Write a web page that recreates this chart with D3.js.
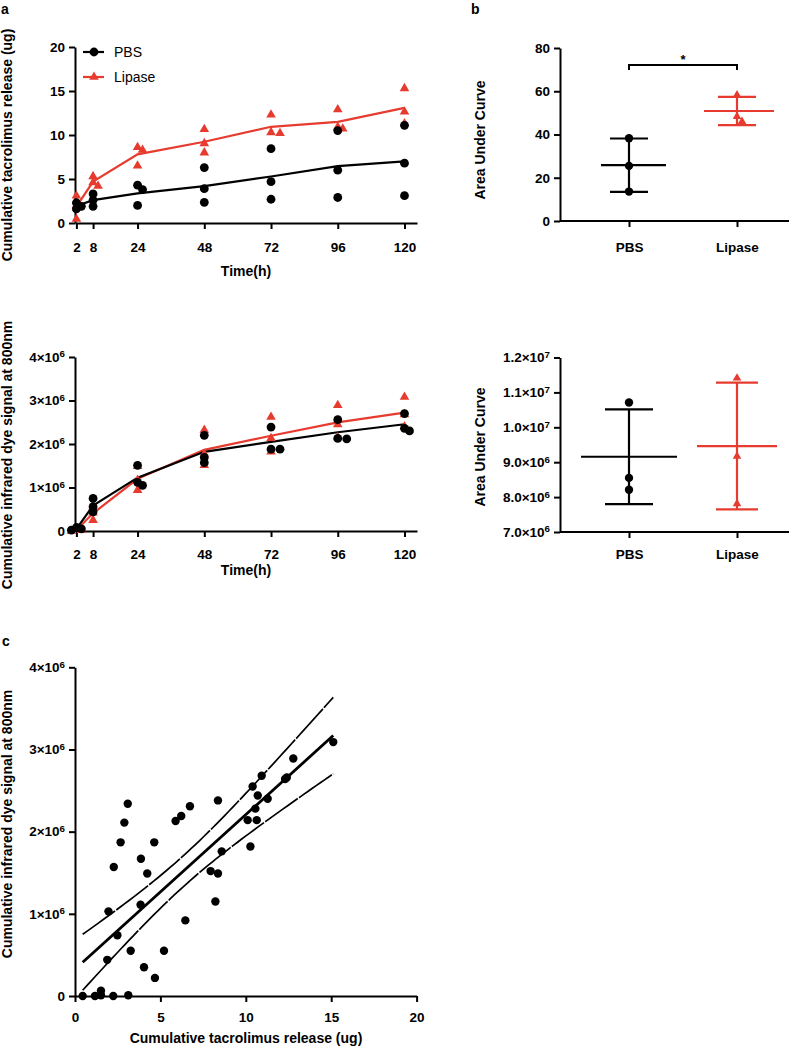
<!DOCTYPE html>
<html>
<head>
<meta charset="utf-8">
<script src="https://cdn.jsdelivr.net/npm/d3@7"></script>
<style>
  html, body { margin: 0; padding: 0; background: #fff; }
  svg { display: block; font-family: "Liberation Sans", Arial, Helvetica, sans-serif; }
</style>
</head>
<body>
<svg id="chart" width="789" height="1048"></svg>
<script>
// ---------------- DATA ----------------
const times = [2, 8, 24, 48, 72, 96, 120];
const timeTicks = [2, 8, 24, 48, 72, 96, 120];
// cumulative tacrolimus release (ug), 3 replicates per time point
const tacPBS = [[2.3, 1.9, 1.6], [3.3, 2.6, 1.9], [4.3, 3.8, 2.0], [6.3, 3.9, 2.35], [8.45, 4.7, 2.7], [10.5, 6.0, 2.9], [11.1, 6.8, 3.1]];
const tacLipase = [[3.1, 2.0, 0.45], [5.3, 4.6, 4.2], [8.6, 8.3, 6.5], [10.65, 9.05, 8.0], [12.3, 10.3, 10.2], [12.9, 10.9, 10.7], [15.3, 12.65, 11.3]];
const tacTicks = [0, 5, 10, 15, 20];
// cumulative infrared dye signal at 800nm
const dyePBS = [[0.08e6, 0.05e6, 0.02e6], [0.75e6, 0.56e6, 0.44e6], [1.51e6, 1.12e6, 1.05e6], [2.20e6, 1.69e6, 1.57e6], [2.39e6, 1.88e6, 1.88e6], [2.56e6, 2.13e6, 2.12e6], [2.70e6, 2.36e6, 2.30e6]];
const dyeLipase = [[0.05e6, 0.02e6, 0.0], [0.55e6, 0.42e6, 0.25e6], [1.49e6, 1.17e6, 0.94e6], [2.32e6, 1.77e6, 1.51e6], [2.62e6, 2.13e6, 1.82e6], [2.89e6, 2.45e6, 2.15e6], [3.08e6, 2.68e6, 2.40e6]];
const dyeTicks = [0, 1e6, 2e6, 3e6, 4e6];
// area under curve
const groups = ["PBS", "Lipase"];
const aucTacPBS = [38.3, 25.5, 13.6];
const aucTacLipase = [58.3, 48.3, 46.0];
const aucTacTicks = [0, 20, 40, 60, 80];
const aucDyePBS = [10.71e6, 8.55e6, 8.21e6];
const aucDyeLipase = [11.41e6, 9.17e6, 7.81e6];
const aucDyeTicks = [7.0e6, 8.0e6, 9.0e6, 1.0e7, 1.1e7, 1.2e7];
// correlation scatter (tacrolimus ug, dye signal)
const corrTac = [0.45, 1.17, 1.52, 1.52, 2.24, 3.12, 1.89, 2.48, 1.96, 2.27, 2.67, 2.89, 3.09, 3.26, 3.84, 3.86, 4.04, 4.23, 4.64, 4.68, 5.21, 5.89, 6.22, 6.46, 6.73, 7.94, 8.22, 8.37, 8.37, 8.59, 10.11, 10.27, 10.40, 10.56, 10.64, 10.70, 10.93, 11.28, 12.30, 12.40, 12.78, 15.12];
const corrDye = [0.0, 0.0, 0.065e6, 0.01e6, 0.0, 0.01e6, 0.44e6, 0.74e6, 1.03e6, 1.57e6, 1.87e6, 2.11e6, 2.34e6, 0.55e6, 1.11e6, 1.67e6, 0.35e6, 1.49e6, 1.87e6, 0.22e6, 0.55e6, 2.13e6, 2.19e6, 0.92e6, 2.31e6, 1.52e6, 1.15e6, 2.38e6, 1.49e6, 1.76e6, 2.14e6, 1.82e6, 2.55e6, 2.28e6, 2.14e6, 2.44e6, 2.68e6, 2.40e6, 2.64e6, 2.66e6, 2.89e6, 3.09e6];
const corrXTicks = [0, 5, 10, 15, 20];
const corrYTicks = [0, 1e6, 2e6, 3e6, 4e6];

// ---------------- STYLE ----------------
const RED = "#e63b2e";
const BLACK = "#000";
const TICK_FS = 13.5;
const TITLE_FS = 14;
const svg = d3.select("#chart");

function styleAxis(g, fs) {
  g.selectAll(".domain").attr("stroke", "#000").attr("stroke-width", 2);
  g.selectAll(".tick line").attr("stroke", "#000").attr("stroke-width", 2);
  g.selectAll(".tick text").attr("fill", "#000").attr("font-size", fs || TICK_FS).attr("font-weight", "bold")
    .attr("font-family", '"Liberation Sans", Arial, sans-serif');
}
function sciLabels(g, fixed) {
  g.selectAll(".tick text").each(function (d) {
    const t = d3.select(this);
    t.text(null);
    if (d === 0) { t.text("0"); return; }
    const e = Math.floor(Math.log10(Math.abs(d)) + 1e-9);
    const m = d / Math.pow(10, e);
    const ms = fixed ? m.toFixed(1) : String(Math.round(m));
    t.append("tspan").text(ms + "×10");
    t.append("tspan").attr("dy", "-0.45em").attr("font-size", "0.72em").text(String(e));
  });
}
function title(x, y, txt, rot, fs) {
  const t = svg.append("text").attr("font-size", fs || TITLE_FS).attr("font-weight", "bold").attr("fill", "#000")
    .attr("text-anchor", "middle").text(txt);
  if (rot) t.attr("transform", `translate(${x},${y}) rotate(-90)`);
  else t.attr("x", x).attr("y", y);
  return t;
}
function panelLabel(x, y, txt) {
  svg.append("text").attr("x", x).attr("y", y).attr("font-size", 14).attr("font-weight", "bold").text(txt);
}
// place replicate points; nudge horizontally when nearly coincident
function placePoints(vals, cx, ys, r) {
  const placed = [];
  const order = vals.map((v, i) => i).sort((a, b) => vals[b] - vals[a]);
  const out = new Array(vals.length);
  order.forEach(i => {
    const py = ys(vals[i]);
    const offs = [0, 5, -5, 9, -9];
    let px = cx;
    for (const o of offs) {
      const ok = placed.every(p => Math.hypot(p[0] - (cx + o), p[1] - py) >= 1.2 * r);
      if (ok) { px = cx + o; break; }
    }
    placed.push([px, py]);
    out[i] = [px, py];
  });
  return out;
}
const triSym = s => d3.symbol().type(d3.symbolTriangle).size(s)();

// ---------------- PANEL a: time courses ----------------
function timePanel(opts) {
  const x = d3.scaleLinear().domain([1.5, 124.5]).range([75, 417]);
  const y = d3.scaleLinear().domain(opts.yDomain).range(opts.yRange);
  const gx = svg.append("g").attr("transform", `translate(0,${opts.yRange[0]})`)
    .call(d3.axisBottom(x).tickValues(timeTicks).tickSize(6).tickSizeOuter(0).tickPadding(opts.xPad).tickFormat(d3.format("d")));
  styleAxis(gx);
  const gy = svg.append("g").attr("transform", `translate(75,0)`)
    .call(d3.axisLeft(y).tickValues(opts.yTicks).tickSize(6).tickSizeOuter(0).tickPadding(4));
  styleAxis(gy);
  if (opts.sci) sciLabels(gy, false);

  const series = [
    { data: opts.lipase, color: RED, tri: true },
    { data: opts.pbs, color: BLACK, tri: false }
  ];
  const line = d3.line().x(d => x(d[0])).y(d => y(d[1]));
  series.forEach(s => {
    const means = times.map((t, i) => [t, d3.mean(s.data[i])]);
    svg.append("path").attr("d", line(means)).attr("fill", "none").attr("stroke", s.color).attr("stroke-width", 2.2);
  });
  series.forEach(s => {
    times.forEach((t, i) => {
      const pts = placePoints(s.data[i], x(t), y, 4.3);
      pts.forEach(p => {
        if (s.tri) svg.append("path").attr("d", triSym(40)).attr("transform", `translate(${p[0]},${p[1]})`).attr("fill", s.color);
        else svg.append("circle").attr("cx", p[0]).attr("cy", p[1]).attr("r", 4.4).attr("fill", s.color);
      });
    });
  });
  title(246, opts.xTitleY, "Time(h)");
  return { x, y };
}

timePanel({ yDomain: [0, 20], yRange: [223, 47], yTicks: tacTicks, pbs: tacPBS, lipase: tacLipase, xPad: 13, xTitleY: 276, sci: false });
title(12, 145, "Cumulative tacrolimus release (ug)", true);
panelLabel(1, 14, "a");

// legend
[{ name: "PBS", color: BLACK, tri: false, y: 52 }, { name: "Lipase", color: RED, tri: true, y: 77 }].forEach(l => {
  svg.append("line").attr("x1", 83).attr("x2", 104).attr("y1", l.y).attr("y2", l.y).attr("stroke", l.color).attr("stroke-width", 2.2);
  if (l.tri) svg.append("path").attr("d", triSym(40)).attr("transform", `translate(94,${l.y})`).attr("fill", l.color);
  else svg.append("circle").attr("cx", 94).attr("cy", l.y).attr("r", 4.4).attr("fill", l.color);
  svg.append("text").attr("x", 114).attr("y", l.y + 5).attr("font-size", 14).text(l.name);
});

timePanel({ yDomain: [0, 4e6], yRange: [531, 357], yTicks: dyeTicks, pbs: dyePBS, lipase: dyeLipase, xPad: 12, xTitleY: 575, sci: true });
title(12, 455, "Cumulative infrared dye signal at 800nm", true);

// ---------------- PANEL b: AUC ----------------
function aucPanel(opts) {
  const x = d3.scalePoint().domain(groups).range([629, 737]);
  const y = d3.scaleLinear().domain(opts.yDomain).range(opts.yRange);
  svg.append("line").attr("x1", 560).attr("x2", 789).attr("y1", opts.yRange[0]).attr("y2", opts.yRange[0])
    .attr("stroke", "#000").attr("stroke-width", 2);
  const gx = svg.append("g").attr("transform", `translate(0,${opts.yRange[0]})`)
    .call(d3.axisBottom(x).tickSize(6).tickSizeOuter(0).tickPadding(opts.xPad));
  gx.select(".domain").remove();
  styleAxis(gx);
  const gy = svg.append("g").attr("transform", `translate(560,0)`)
    .call(d3.axisLeft(y).tickValues(opts.yTicks).tickSize(6).tickSizeOuter(0).tickPadding(4));
  styleAxis(gy);
  if (opts.sci) sciLabels(gy, true);

  const sets = [
    { g: "PBS", data: opts.pbs, color: BLACK, tri: false, mw: opts.meanW[0], cw: opts.capW[0] },
    { g: "Lipase", data: opts.lipase, color: RED, tri: true, mw: opts.meanW[1], cw: opts.capW[1] }
  ];
  sets.forEach(s => {
    const cx = x(s.g);
    const m = d3.mean(s.data), sd = d3.deviation(s.data);
    const st = l => l.attr("stroke", s.color).attr("stroke-width", 2.2);
    st(svg.append("line").attr("x1", cx).attr("x2", cx).attr("y1", y(m + sd)).attr("y2", y(m - sd)));
    st(svg.append("line").attr("x1", cx - s.mw[0]).attr("x2", cx + s.mw[1]).attr("y1", y(m)).attr("y2", y(m)));
    [m + sd, m - sd].forEach(v => st(svg.append("line").attr("x1", cx - s.cw).attr("x2", cx + s.cw).attr("y1", y(v)).attr("y2", y(v))));
    const pts = placePoints(s.data, cx, y, 4.3);
    pts.forEach(p => {
      if (s.tri) svg.append("path").attr("d", triSym(32)).attr("transform", `translate(${p[0]},${p[1]})`).attr("fill", s.color);
      else svg.append("circle").attr("cx", p[0]).attr("cy", p[1]).attr("r", 4.2).attr("fill", s.color);
    });
  });
  title(opts.titleX, opts.titleY, "Area Under Curve", true);
  return { x, y };
}

const b1 = aucPanel({ yDomain: [0, 80], yRange: [221, 48], yTicks: aucTacTicks, pbs: aucTacPBS, lipase: aucTacLipase,
  xPad: 15, sci: false, meanW: [[28, 37], [33, 37]], capW: [19, 19], titleX: 485, titleY: 140 });
panelLabel(471, 14, "b");
// significance bracket
{
  const xa = b1.x("PBS"), xb = b1.x("Lipase");
  svg.append("path").attr("d", `M${xa},70V65H${xb}V70`).attr("fill", "none").attr("stroke", "#000").attr("stroke-width", 2);
  svg.append("text").attr("x", (xa + xb) / 2).attr("y", 64).attr("text-anchor", "middle").attr("font-size", 13).attr("font-weight", "bold").text("*");
}

aucPanel({ yDomain: [7e6, 1.2e7], yRange: [532, 357.5], yTicks: aucDyeTicks, pbs: aucDyePBS, lipase: aucDyeLipase,
  xPad: 11, sci: true, meanW: [[48, 48], [40, 40]], capW: [24, 21], titleX: 485, titleY: 447 });

// ---------------- PANEL c: correlation ----------------
{
  const x = d3.scaleLinear().domain([0, 20]).range([75, 416.6]);
  const y = d3.scaleLinear().domain([0, 4e6]).range([996, 667.3]);
  const gx = svg.append("g").attr("transform", `translate(0,996)`)
    .call(d3.axisBottom(x).tickValues(corrXTicks).tickSize(6).tickSizeOuter(0).tickPadding(10));
  styleAxis(gx);
  const gy = svg.append("g").attr("transform", `translate(75,0)`)
    .call(d3.axisLeft(y).tickValues(corrYTicks).tickSize(6).tickSizeOuter(0).tickPadding(4));
  styleAxis(gy);
  sciLabels(gy, false);

  // linear regression with 95% confidence band
  const n = corrTac.length;
  const mx = d3.mean(corrTac), my = d3.mean(corrDye);
  let sxx = 0, sxy = 0;
  for (let i = 0; i < n; i++) { sxx += (corrTac[i] - mx) ** 2; sxy += (corrTac[i] - mx) * (corrDye[i] - my); }
  const slope = sxy / sxx, icpt = my - slope * mx;
  let sse = 0;
  for (let i = 0; i < n; i++) sse += (corrDye[i] - (icpt + slope * corrTac[i])) ** 2;
  const s = Math.sqrt(sse / (n - 2));
  const tcrit = 2.021;
  const [x0, x1] = d3.extent(corrTac);
  const xs = d3.range(0, 61).map(i => x0 + (x1 - x0) * i / 60);
  const fit = v => icpt + slope * v;
  const half = v => tcrit * s * Math.sqrt(1 / n + (v - mx) ** 2 / sxx);
  const line = d3.line().x(d => x(d[0])).y(d => y(d[1]));
  svg.append("path").attr("d", line(xs.map(v => [v, fit(v) + half(v)]))).attr("fill", "none").attr("stroke", "#000").attr("stroke-width", 1.7).attr("stroke-dasharray", "40,1.5");
  svg.append("path").attr("d", line(xs.map(v => [v, fit(v) - half(v)]))).attr("fill", "none").attr("stroke", "#000").attr("stroke-width", 1.7).attr("stroke-dasharray", "40,1.5");
  svg.append("path").attr("d", line([[x0, fit(x0)], [x1, fit(x1)]])).attr("fill", "none").attr("stroke", "#000").attr("stroke-width", 2.8);

  corrTac.forEach((v, i) => {
    svg.append("circle").attr("cx", x(v)).attr("cy", y(corrDye[i])).attr("r", 4.2).attr("fill", "#000");
  });
  title(246, 1043, "Cumulative tacrolimus release (ug)");
  title(12, 824, "Cumulative infrared dye signal at 800nm", true);
  panelLabel(2, 646, "c");
}
</script>
</body>
</html>
